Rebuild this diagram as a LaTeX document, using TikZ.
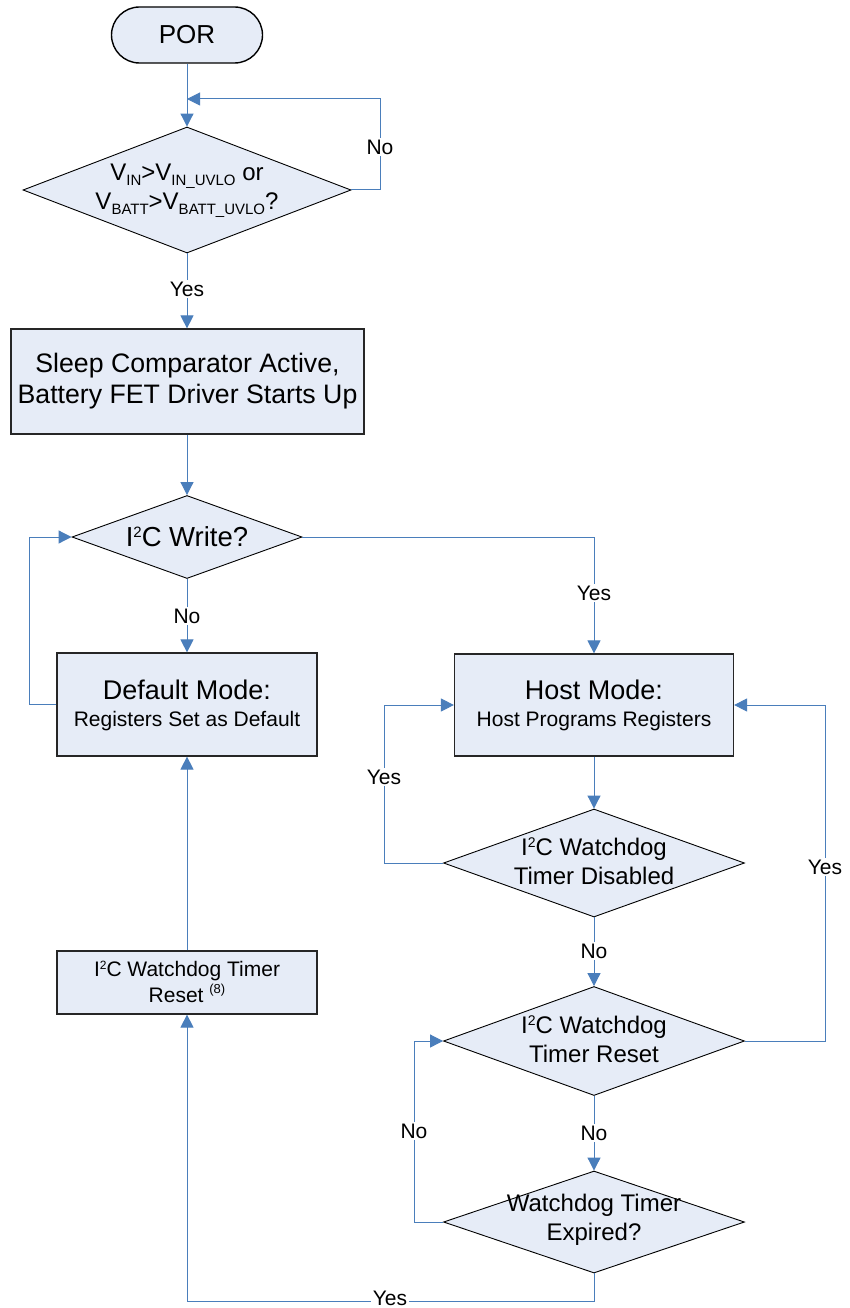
\documentclass[tikz,border=0pt]{standalone}
\usepackage{fontspec}
\setmainfont{Liberation Sans}
\usetikzlibrary{arrows.meta,shapes.geometric}
\definecolor{fillblue}{HTML}{E6ECF7}
\definecolor{lineblue}{HTML}{4A7EBB}
\newcommand\sbs[1]{\raisebox{-0.2em}{\fontsize{15}{15}\selectfont #1}}
\newcommand\sps[3][14]{\raisebox{#2}{\fontsize{#1}{#1}\selectfont #3}}
\begin{document}
\begin{tikzpicture}[x=1pt,y=-1pt,
  boxnode/.style={draw=black!85, line width=1.2pt, fill=fillblue, rectangle, inner sep=0pt, align=center},
  dianode/.style={draw=black, line width=0.9pt, fill=fillblue, diamond, inner sep=0pt},
  txt/.style={align=center, inner sep=0pt},
  conn/.style={draw=lineblue, line width=1pt, -{Triangle[length=13pt,width=13pt]}},
  lbl/.style={fill=white, inner sep=1.5pt, font=\fontsize{21}{21}\selectfont}
]
\useasboundingbox (0,0) rectangle (849,1308);
\fill[white] (0,0) rectangle (849,1308);

% nodes
\node[boxnode, draw=black, line width=1.4pt, rounded corners=28pt, minimum width=151pt, minimum height=56pt, font=\fontsize{26}{30}\selectfont] (por) at (187,35) {POR};

\node[dianode, minimum width=328pt, minimum height=126pt] (d1) at (187,190) {};
\node[txt, font=\fontsize{24}{29}\selectfont] (t1) at (187,191) {V\sbs{IN}>V\sbs{IN\_UVLO} or\\V\sbs{BATT}>V\sbs{BATT\_UVLO}?};

\node[boxnode, minimum width=353pt, minimum height=105pt, font=\fontsize{26.7}{31}\selectfont] (b1) at (187.5,381.5) {Sleep Comparator Active,\\Battery FET Driver Starts Up};

\node[dianode, minimum width=230pt, minimum height=83pt] (d2) at (187,537) {};
\node[txt, font=\fontsize{27.5}{31}\selectfont] (t2) at (187,537) {I\sps[15]{0.33em}{2}C Write?};

\node[boxnode, minimum width=260pt, minimum height=103pt] (def) at (187,704.5) {};
\node[txt, font=\fontsize{21}{27}\selectfont] (tdef) at (187,705) {{\fontsize{27}{27}\selectfont Default Mode:}\\Registers Set as Default};

\node[boxnode, minimum width=279pt, minimum height=102pt] (host) at (594,705) {};
\node[txt, font=\fontsize{21}{27}\selectfont] (thost) at (594,705) {{\fontsize{27}{27}\selectfont Host Mode:}\\Host Programs Registers};

\node[dianode, minimum width=301pt, minimum height=108pt] (d3) at (594,863) {};
\node[txt, font=\fontsize{24}{29}\selectfont] (t3) at (594,861) {I\sps{0.35em}{2}C Watchdog\\Timer Disabled};

\node[dianode, minimum width=301pt, minimum height=109pt] (d4) at (594,1041) {};
\node[txt, font=\fontsize{24}{29}\selectfont] (t4) at (594,1039) {I\sps{0.35em}{2}C Watchdog\\Timer Reset};

\node[dianode, minimum width=301pt, minimum height=102pt] (d5) at (594,1222) {};
\node[txt, font=\fontsize{24}{29}\selectfont] (t5) at (594,1220) {Watchdog Timer\\Expired?};

\node[boxnode, minimum width=260pt, minimum height=63pt] (wdr) at (187,982.5) {};
\node[txt, font=\fontsize{21}{26}\selectfont] (twdr) at (187,982) {I\sps[12]{0.35em}{2}C Watchdog Timer\\Reset \sps[13]{0.45em}{(8)}};

% coordinates
\coordinate (m1) at (187,99);
\coordinate (c1a) at (380,190);
\coordinate (c1b) at (380,99);
\coordinate (c2) at (594,537);
\coordinate (c3a) at (29,704.5);
\coordinate (c3b) at (29,537);
\coordinate (c4a) at (384,863);
\coordinate (c4b) at (384,705);
\coordinate (c5a) at (825,1041);
\coordinate (c5b) at (825,705);
\coordinate (c6a) at (414,1222);
\coordinate (c6b) at (414,1041);
\coordinate (c7a) at (594,1301);
\coordinate (c7b) at (187,1301);

% connectors
\draw[conn] (por.south) -- (d1.north);
\draw[conn] (d1.east) -- (c1a) -- (c1b) -- (m1);
\draw[conn] (d1.south) -- (d1.south |- b1.north);
\draw[conn] (b1.south -| d2.north) -- (d2.north);
\draw[conn] (d2.east) -- (c2) -- (host.north);
\draw[conn] (d2.south) -- (def.north);
\draw[conn] (def.west) -- (c3a) -- (c3b) -- (d2.west);
\draw[conn] (host.south) -- (d3.north);
\draw[conn] (d3.west) -- (c4a) -- (c4b) -- (host.west);
\draw[conn] (d3.south) -- (d4.north);
\draw[conn] (d4.east) -- (c5a) -- (c5b) -- (host.east);
\draw[conn] (d4.south) -- (d5.north);
\draw[conn] (d5.west) -- (c6a) -- (c6b) -- (d4.west);
\draw[conn] (d5.south) -- (c7a) -- (c7b) -- (wdr.south);
\draw[conn] (wdr.north) -- (def.south);

% labels
\node[lbl] (l1) at (380,147) {No};
\node[lbl] (l2) at (187,289) {Yes};
\node[lbl] (l3) at (594,593) {Yes};
\node[lbl] (l4) at (187,616) {No};
\node[lbl] (l5) at (384,777) {Yes};
\node[lbl] (l6) at (594,951) {No};
\node[lbl] (l7) at (825,867) {Yes};
\node[lbl] (l8) at (594,1133) {No};
\node[lbl] (l9) at (414,1131) {No};
\node[lbl] (l10) at (390,1298.5) {Yes};
\end{tikzpicture}
\end{document}
